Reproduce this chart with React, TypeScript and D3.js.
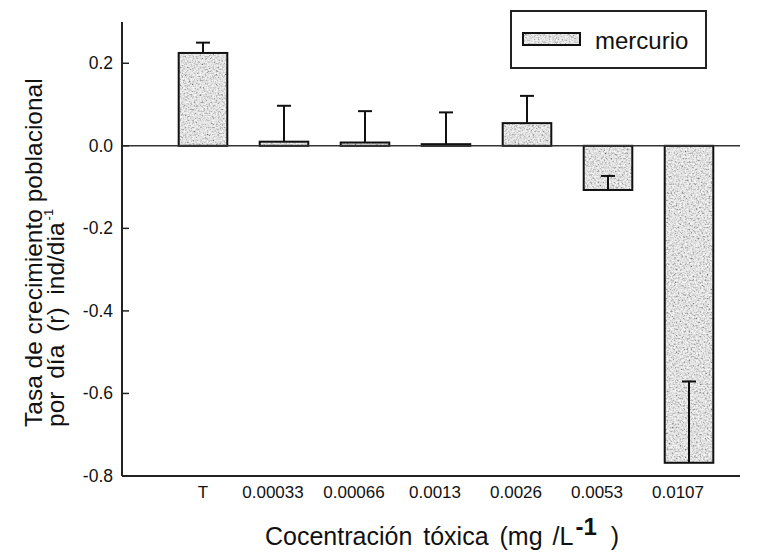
import React from "react";
import * as d3 from "d3";

// Population growth rate per day under mercury concentrations
const categories = ["T", "0.00033", "0.00066", "0.0013", "0.0026", "0.0053", "0.0107"];
const values = [0.225, 0.01, 0.008, 0.004, 0.055, -0.107, -0.768];
const errors = [0.025, 0.087, 0.076, 0.077, 0.066, 0.034, 0.197];
const yTicks = [0.2, 0.0, -0.2, -0.4, -0.6, -0.8];
const seriesName = "mercurio";

const W = 763;
const H = 552;
const axisLeft = 122;
const axisRight = 740;
const plotTop = 22;
const plotBottom = 476;

const FONT = "'Liberation Sans', Arial, sans-serif";

export default function App() {
  const y = d3.scaleLinear().domain([-0.8, 0.3]).range([plotBottom, plotTop]);
  const x = d3
    .scaleBand<string>()
    .domain(categories)
    .range([162.5, 729.5])
    .paddingInner(0.4)
    .paddingOuter(0.2);
  const bw = x.bandwidth();
  const y0 = y(0);
  const capHalf = 7;
  const tickShift = (c: string) => (c === "T" ? 0 : -11);
  const grain = "0.12 0.3 0.5 0.66 0.78 0.86 0.92 0.97";

  return (
    <svg
      width={W}
      height={H}
      viewBox={`0 0 ${W} ${H}`}
      style={{ position: "absolute", left: 0, top: 0, background: "#fff" }}
      fontFamily={FONT}
    >
      <defs>
        <filter id="stipple" x="0" y="0" width="100%" height="100%">
          <feTurbulence type="fractalNoise" baseFrequency="0.55" numOctaves="3" seed="7" result="noise" />
          <feColorMatrix
            in="noise"
            type="matrix"
            values="1.3 0 0 0 -0.12  1.3 0 0 0 -0.12  1.3 0 0 0 -0.12  0 0 0 0 1"
            result="mono"
          />
          <feComponentTransfer in="mono" result="grain">
            <feFuncR type="table" tableValues={grain} />
            <feFuncG type="table" tableValues={grain} />
            <feFuncB type="table" tableValues={grain} />
          </feComponentTransfer>
          <feComposite in="grain" in2="SourceGraphic" operator="in" />
        </filter>
      </defs>

      {/* bars */}
      {categories.map((c, i) => {
        const v = values[i];
        const top = Math.min(y(v), y0);
        const h = Math.abs(y(v) - y0);
        return (
          <g key={c}>
            <rect x={x(c)} y={top} width={bw} height={h} fill="#bbb" filter="url(#stipple)" />
            <rect x={x(c)} y={top} width={bw} height={h} fill="none" stroke="#111" strokeWidth={2} />
          </g>
        );
      })}

      {/* error bars, drawn in the positive direction */}
      {categories.map((c, i) => {
        const cx = (x(c) as number) + bw / 2;
        const from = y(values[i]);
        const to = y(values[i] + errors[i]);
        return (
          <g key={"e" + c} stroke="#111" strokeWidth={2}>
            <line x1={cx} x2={cx} y1={from} y2={to} />
            <line x1={cx - capHalf} x2={cx + capHalf} y1={to} y2={to} />
          </g>
        );
      })}

      {/* zero line */}
      <line x1={axisLeft} x2={axisRight} y1={y0} y2={y0} stroke="#333" strokeWidth={1.5} />

      {/* axes */}
      <line x1={axisLeft} x2={axisLeft} y1={plotTop} y2={plotBottom} stroke="#222" strokeWidth={2} />
      <line x1={axisLeft} x2={axisRight} y1={plotBottom} y2={plotBottom} stroke="#222" strokeWidth={2} />

      {yTicks.map((t) => (
        <g key={t}>
          <line x1={axisLeft} x2={axisLeft + 7} y1={y(t)} y2={y(t)} stroke="#222" strokeWidth={1.5} />
          <text x={113} y={y(t) + 6} textAnchor="end" fontSize={17.5} fill="#111">
            {t.toFixed(1)}
          </text>
        </g>
      ))}

      {categories.map((c) => (
        <text
          key={"t" + c}
          x={(x(c) as number) + bw / 2 + tickShift(c)}
          y={498}
          textAnchor="middle"
          fontSize={17}
          fill="#111"
        >
          {c}
        </text>
      ))}

      {/* x axis title */}
      <text x={265} y={545} fontSize={25} fill="#111" wordSpacing={4}>
        Cocentración tóxica (mg
        <tspan dx={10}>/L</tspan>
        <tspan dx={2} dy={-10} fontSize={24} fontWeight="bold">-1</tspan>
        <tspan dx={14} dy={10}>)</tspan>
      </text>

      {/* y axis title */}
      <g transform="translate(42, 427) rotate(-90)">
        <text x={0} y={0} fontSize={24.5} fill="#111">
          Tasa de crecimiento poblacional
        </text>
        <text x={0} y={22} fontSize={24.5} fill="#111" wordSpacing={6}>
          por día (r) ind/dia
          <tspan dy={-11} dx={2} fontSize={13}>-1</tspan>
        </text>
      </g>

      {/* legend */}
      <rect x={511} y={11} width={195} height={57} fill="#fff" stroke="#222" strokeWidth={2} />
      <rect x={523} y={33} width={57} height={12} fill="#bbb" filter="url(#stipple)" />
      <rect x={523} y={33} width={57} height={12} fill="none" stroke="#111" strokeWidth={2} />
      <text x={595} y={49} fontSize={24} fill="#111">
        {seriesName}
      </text>
    </svg>
  );
}
